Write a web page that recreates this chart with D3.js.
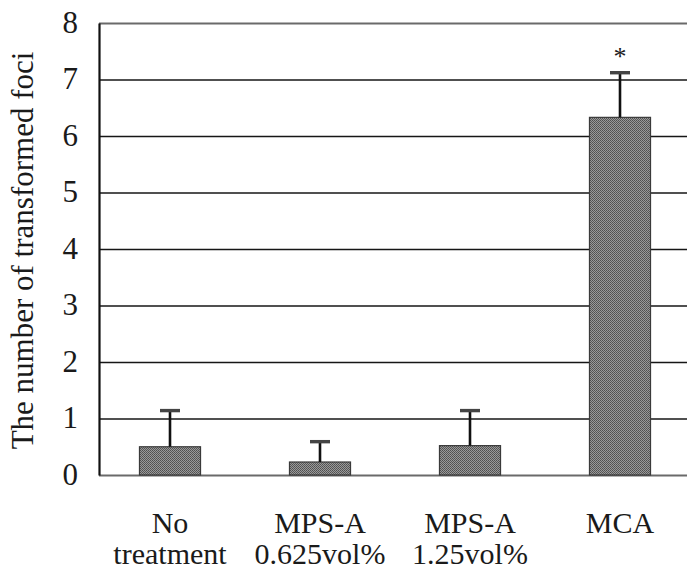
<!DOCTYPE html>
<html>
<head>
<meta charset="utf-8">
<script src="https://cdn.jsdelivr.net/npm/d3@7"></script>
<style>
  html, body { margin: 0; padding: 0; background: #fff; }
  svg { display: block; }
</style>
</head>
<body>
<svg id="chart" width="687" height="580"></svg>
<script>
// ---- data ----
const categories = ["No treatment", "MPS-A 0.625vol%", "MPS-A 1.25vol%", "MCA"];
const labelLine1 = ["No", "MPS-A", "MPS-A", "MCA"];
const labelLine2 = ["treatment", "0.625vol%", "1.25vol%", ""];
const means = [0.50, 0.23, 0.52, 6.33];
const errors = [0.64, 0.36, 0.62, 0.79];
const significance = ["", "", "", "*"];
const yTicks = [0, 1, 2, 3, 4, 5, 6, 7, 8];
const yTitle = "The number of transformed foci";

// ---- layout ----
const FONT = "'Liberation Serif', 'Times New Roman', Times, serif";
const svg = d3.select("#chart");
const plotLeft = 99, plotTop = 23, plotBottom = 475;

// dithered gray fill like the printed bars
const defs = svg.append("defs");
const pat = defs.append("pattern").attr("id", "dither")
  .attr("patternUnits", "userSpaceOnUse").attr("width", 2).attr("height", 2);
pat.append("rect").attr("width", 2).attr("height", 2).attr("fill", "#9a9a9a");
pat.append("rect").attr("width", 1).attr("height", 1).attr("fill", "#505050");
pat.append("rect").attr("x", 1).attr("y", 1).attr("width", 1).attr("height", 1).attr("fill", "#5a5a5a");

const x = d3.scaleBand()
  .domain(categories)
  .range([95, 695])
  .paddingInner(0.593)
  .paddingOuter(0.2965);

const y = d3.scaleLinear().domain([0, 8]).range([plotBottom, plotTop]);

// gridlines
const grid = svg.append("g").attr("transform", `translate(${plotLeft},0)`)
  .call(d3.axisLeft(y).tickValues(yTicks).tickSize(-(687 - plotLeft)).tickFormat(""));
grid.select(".domain").remove();
grid.selectAll(".tick line")
  .attr("stroke", d => (d === 0 || d === 8) ? "#6a6a6a" : "#161616")
  .attr("stroke-width", d => (d === 0 || d === 8) ? 2.2 : 1.4);

// y axis labels
const yAxis = svg.append("g").attr("transform", `translate(${plotLeft},0)`)
  .call(d3.axisLeft(y).tickValues(yTicks).tickSize(0).tickPadding(21).tickFormat(d3.format("d")));
yAxis.attr("font-family", FONT).attr("font-size", 31);
yAxis.select(".domain").attr("stroke", "#111").attr("stroke-width", 2.2);
yAxis.selectAll(".tick text")
  .attr("font-family", FONT)
  .attr("font-size", 31)
  .attr("fill", "#1a1a1a")
  .attr("dy", "0.3em");

// bars
const bars = svg.append("g");
bars.selectAll("rect").data(categories).join("rect")
  .attr("x", d => x(d))
  .attr("width", x.bandwidth())
  .attr("y", (d, i) => y(means[i]))
  .attr("height", (d, i) => y(0) - y(means[i]))
  .attr("fill", "url(#dither)")
  .attr("stroke", "#3a3a3a")
  .attr("stroke-width", 1.2);

// error bars
const eb = svg.append("g");
categories.forEach((c, i) => {
  const cx = x(c) + x.bandwidth() / 2;
  eb.append("line")
    .attr("x1", cx).attr("x2", cx)
    .attr("y1", y(means[i])).attr("y2", y(means[i] + errors[i]))
    .attr("stroke", "#111").attr("stroke-width", 2.6);
  eb.append("line")
    .attr("x1", cx - 10).attr("x2", cx + 10)
    .attr("y1", y(means[i] + errors[i])).attr("y2", y(means[i] + errors[i]))
    .attr("stroke", "#444").attr("stroke-width", 3.4);
  if (significance[i]) {
    svg.append("text")
      .attr("x", cx)
      .attr("y", y(means[i] + errors[i]) - 8)
      .attr("text-anchor", "middle")
      .attr("font-family", FONT)
      .attr("font-size", 26)
      .attr("fill", "#1a1a1a")
      .text(significance[i]);
  }
});

// x labels
const xl = svg.append("g").attr("font-family", FONT).attr("font-size", 30).attr("fill", "#1a1a1a");
categories.forEach((c, i) => {
  const cx = x(c) + x.bandwidth() / 2;
  xl.append("text").attr("x", cx).attr("y", 533)
    .attr("text-anchor", "middle").attr("font-family", FONT).text(labelLine1[i]);
  if (labelLine2[i]) {
    xl.append("text").attr("x", cx).attr("y", 564)
      .attr("text-anchor", "middle").attr("font-family", FONT).text(labelLine2[i]);
  }
});

// y title
svg.append("text")
  .attr("transform", `translate(33,${(48 + 453) / 2}) rotate(-90)`)
  .attr("text-anchor", "middle")
  .attr("font-family", FONT)
  .attr("font-size", 31)
  .attr("fill", "#1a1a1a")
  .text(yTitle);
</script>
</body>
</html>
